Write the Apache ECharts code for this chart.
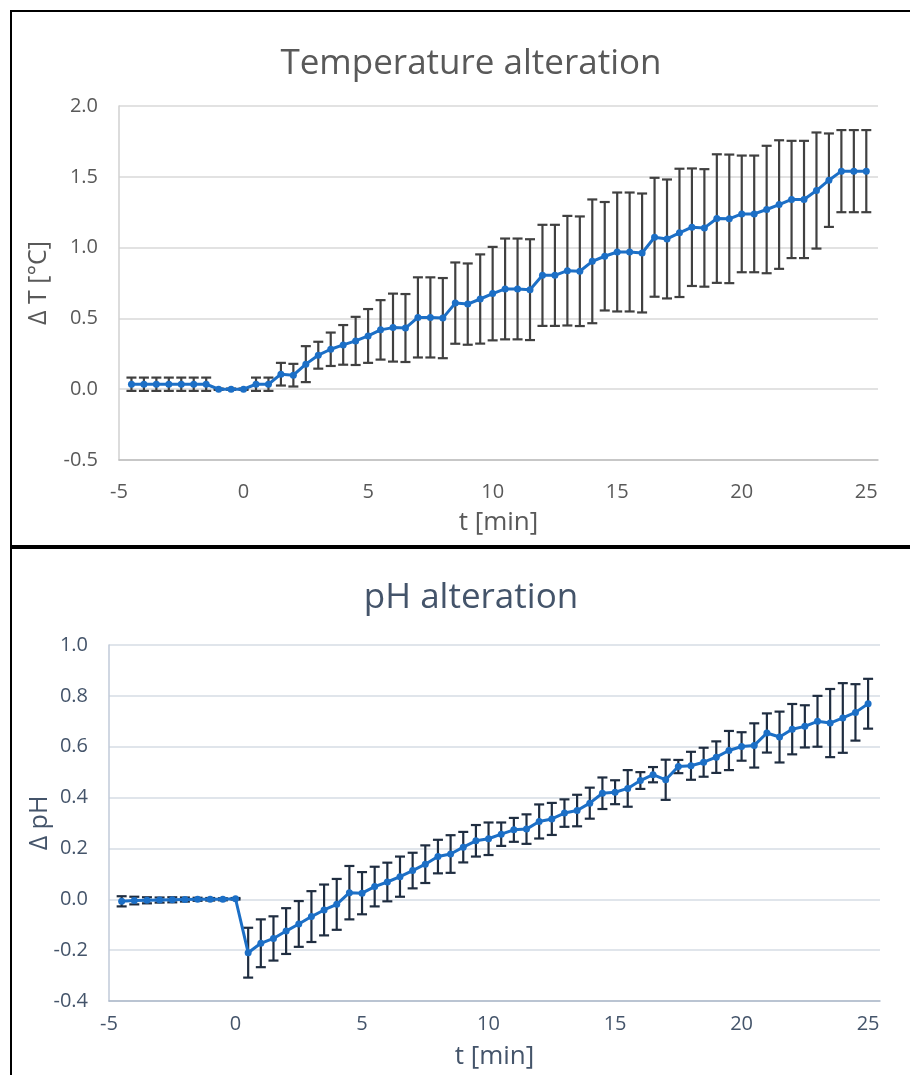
<!DOCTYPE html>
<html>
<head>
<meta charset="utf-8">
<script src="https://cdn.jsdelivr.net/npm/echarts@6/dist/echarts.min.js"></script>
<style>
  html, body { margin: 0; padding: 0; background: #fff; }
  #chart { width: 910px; height: 1075px; }
</style>
</head>
<body>
<div id="chart"></div>
<script>
// time points [min]
const times = [-4.5, -4, -3.5, -3, -2.5, -2, -1.5, -1, -0.5, 0,
    0.5, 1, 1.5, 2, 2.5, 3, 3.5, 4, 4.5, 5, 5.5, 6,
    6.5, 7, 7.5, 8, 8.5, 9, 9.5, 10, 10.5, 11, 11.5, 12, 12.5, 13, 13.5, 14,
    14.5, 15, 15.5, 16, 16.5, 17, 17.5, 18, 18.5, 19, 19.5, 20, 20.5, 21,
    21.5, 22, 22.5, 23, 23.5, 24, 24.5, 25];

// temperature change, mean and +/- error
const tempMean = [0.035, 0.035, 0.035, 0.035, 0.035, 0.035, 0.035, 0.0, 0.0, 0.0,
    0.035, 0.035, 0.106, 0.099, 0.177, 0.24, 0.282, 0.313, 0.341, 0.376, 0.419, 0.435,
    0.432, 0.507, 0.507, 0.502, 0.608, 0.601, 0.637, 0.675, 0.708, 0.708, 0.703, 0.804, 0.804, 0.837, 0.833, 0.903,
    0.939, 0.969, 0.969, 0.962, 1.073, 1.061, 1.104, 1.144, 1.139, 1.205, 1.203, 1.238, 1.238, 1.269,
    1.304, 1.34, 1.34, 1.403, 1.476, 1.54, 1.54, 1.54];
const tempErr = [0.047, 0.047, 0.047, 0.047, 0.047, 0.047, 0.047, 0.005, 0.005, 0.005,
    0.047, 0.047, 0.08, 0.08, 0.127, 0.095, 0.118, 0.14, 0.17, 0.19, 0.21, 0.24,
    0.24, 0.283, 0.283, 0.283, 0.287, 0.287, 0.315, 0.33, 0.356, 0.356, 0.356, 0.357, 0.357, 0.387, 0.387, 0.437,
    0.383, 0.42, 0.42, 0.42, 0.42, 0.42, 0.453, 0.415, 0.415, 0.454, 0.454, 0.412, 0.412, 0.45,
    0.454, 0.414, 0.414, 0.41, 0.33, 0.29, 0.29, 0.29];

// pH change, mean and +/- error
const phMean = [-0.008, -0.005, -0.004, -0.003, -0.002, -0.001, 0.0, 0.0, 0.0, 0.002,
    -0.21, -0.173, -0.154, -0.125, -0.097, -0.068, -0.042, -0.02, 0.026, 0.024, 0.05, 0.068,
    0.089, 0.113, 0.138, 0.168, 0.178, 0.205, 0.23, 0.238, 0.256, 0.273, 0.276, 0.306, 0.316, 0.339, 0.349, 0.378,
    0.417, 0.421, 0.436, 0.467, 0.49, 0.47, 0.522, 0.525, 0.539, 0.559, 0.585, 0.601, 0.605, 0.654,
    0.638, 0.669, 0.68, 0.7, 0.693, 0.713, 0.735, 0.769];
const phErr = [0.02, 0.015, 0.012, 0.01, 0.01, 0.008, 0.006, 0.005, 0.004, 0.003,
    0.098, 0.094, 0.087, 0.09, 0.09, 0.1, 0.1, 0.1, 0.105, 0.083, 0.078, 0.076,
    0.079, 0.07, 0.074, 0.066, 0.074, 0.06, 0.062, 0.064, 0.046, 0.047, 0.058, 0.067, 0.063, 0.054, 0.062, 0.061,
    0.062, 0.047, 0.072, 0.033, 0.03, 0.079, 0.026, 0.055, 0.057, 0.062, 0.077, 0.056, 0.087, 0.077,
    0.1, 0.099, 0.083, 0.1, 0.134, 0.137, 0.111, 0.098];

const xTicks = [-5, 0, 5, 10, 15, 20, 25];
const tempTicks = [-0.5, 0.0, 0.5, 1.0, 1.5, 2.0];
const phTicks = [-0.4, -0.2, 0.0, 0.2, 0.4, 0.6, 0.8, 1.0];

const FONT = "'Open Sans', 'Noto Sans', sans-serif";
const blue = "#1c6fc6";

function pairs(ys) {
    return times.map((t, i) => [t, ys[i]]);
}
function bars(ys, err) {
    return times.map((t, i) => [t, ys[i] - err[i], ys[i] + err[i]]);
}
function errorBars(idx, data, color) {
    return {
        type: "custom",
        xAxisIndex: idx,
        yAxisIndex: idx,
        z: 1,
        silent: true,
        data: data,
        renderItem: function (params, api) {
            const lo = api.coord([api.value(0), api.value(1)]);
            const hi = api.coord([api.value(0), api.value(2)]);
            const w = 5;
            const style = { stroke: color, lineWidth: 2.2 };
            return {
                type: "group",
                children: [
                    { type: "line", shape: { x1: lo[0], y1: lo[1], x2: hi[0], y2: hi[1] }, style: style },
                    { type: "line", shape: { x1: lo[0] - w, y1: lo[1], x2: lo[0] + w, y2: lo[1] }, style: style },
                    { type: "line", shape: { x1: hi[0] - w, y1: hi[1], x2: hi[0] + w, y2: hi[1] }, style: style }
                ]
            };
        }
    };
}
function xAxis(idx, txt, axisCol, gap, nameGap) {
    return {
        type: "value",
        gridIndex: idx,
        min: xTicks[0],
        max: 25.47,
        interval: 5,
        splitLine: { show: false },
        axisTick: { show: false },
        axisLine: { onZero: false, lineStyle: { color: axisCol, width: 1.5 } },
        axisLabel: {
            color: txt, fontFamily: FONT, fontSize: 20, margin: gap,
            formatter: v => xTicks.includes(v) ? String(v) : ""
        },
        name: "t [min]",
        nameLocation: "middle",
        nameGap: nameGap,
        nameTextStyle: { color: txt, fontFamily: FONT, fontSize: 26 }
    };
}
function yAxis(idx, ticks, step, txt, axisCol, gridCol, name, nameGap) {
    return {
        type: "value",
        gridIndex: idx,
        min: ticks[0],
        max: ticks[ticks.length - 1],
        interval: step,
        axisTick: { show: false },
        axisLine: { show: true, onZero: false, lineStyle: { color: axisCol, width: 1.5 } },
        splitLine: { lineStyle: { color: gridCol, width: 1.5 } },
        axisLabel: {
            color: txt, fontFamily: FONT, fontSize: 20, margin: 21,
            formatter: v => v.toFixed(1)
        },
        name: name,
        nameLocation: "middle",
        nameGap: nameGap,
        nameMoveOverlap: false,
        nameTextStyle: { color: txt, fontFamily: FONT, fontSize: 25 }
    };
}

const chart = echarts.init(document.getElementById("chart"));
chart.setOption({
    animation: false,
    backgroundColor: "#fff",
    title: [
        { text: "Temperature alteration", left: 466, top: 42, textAlign: "center",
          textStyle: { color: "#595959", fontFamily: FONT, fontSize: 35, fontWeight: "normal" } },
        { text: "pH alteration", left: 466, top: 576, textAlign: "center",
          textStyle: { color: "#44546a", fontFamily: FONT, fontSize: 35, fontWeight: "normal" } }
    ],
    graphic: [
        { type: "rect", shape: { x: 11, y: 11, width: 920, height: 535 },
          style: { fill: "none", stroke: "#000", lineWidth: 2 } },
        { type: "rect", shape: { x: 11, y: 548, width: 920, height: 600 },
          style: { fill: "none", stroke: "#000", lineWidth: 2 } }
    ],
    grid: [
        { left: 119, top: 106, width: 759, height: 354, outerBoundsMode: "none" },
        { left: 109, top: 645, width: 771, height: 356, outerBoundsMode: "none" }
    ],
    xAxis: [
        xAxis(0, "#595959", "#bfbfbf", 22, 50),
        xAxis(1, "#44546a", "#adb9ca", 13, 43)
    ],
    yAxis: [
        yAxis(0, tempTicks, 0.5, "#595959", "#d0d0d0", "#d9d9d9", "\u0394 T [\u00b0C]", 68),
        yAxis(1, phTicks, 0.2, "#44546a", "#c0cad8", "#d6dce4", "\u0394 pH", 57)
    ],
    series: [
        errorBars(0, bars(tempMean, tempErr), "#404040"),
        {
            type: "line", xAxisIndex: 0, yAxisIndex: 0, z: 3,
            data: pairs(tempMean),
            symbol: "circle", symbolSize: 7,
            lineStyle: { color: blue, width: 3 },
            itemStyle: { color: blue }
        },
        errorBars(1, bars(phMean, phErr), "#1f2d40"),
        {
            type: "line", xAxisIndex: 1, yAxisIndex: 1, z: 3,
            data: pairs(phMean),
            symbol: "circle", symbolSize: 7,
            lineStyle: { color: blue, width: 3 },
            itemStyle: { color: blue }
        }
    ]
});
</script>
</body>
</html>
